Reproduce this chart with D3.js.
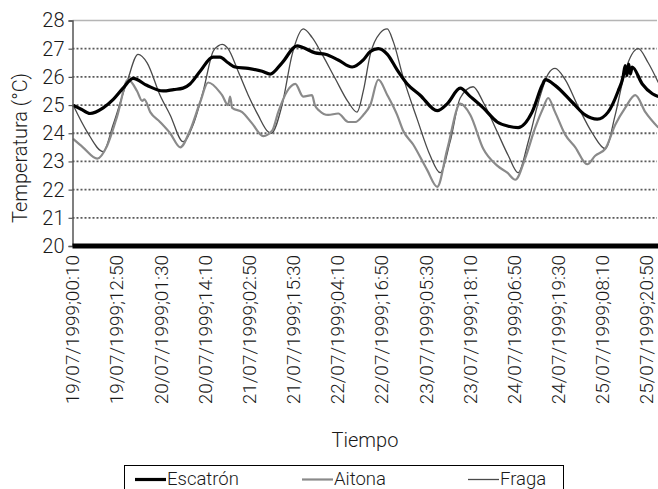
<!DOCTYPE html>
<html>
<head>
<meta charset="utf-8">
<script src="https://cdn.jsdelivr.net/npm/d3@7"></script>
<style>
  html, body { margin: 0; padding: 0; background: #fff; }
  svg { display: block; }
  text { font-family: "Roboto", "Liberation Sans", sans-serif; font-weight: 300; fill: #1a1a1a; }
</style>
</head>
<body>
<svg id="chart" width="658" height="489"></svg>
<script>
// Tick labels along the time axis (every 12 h 40 min)
const timeTicks = [
  "19/07/1999;00:10", "19/07/1999;12:50", "20/07/1999;01:30", "20/07/1999;14:10",
  "21/07/1999;02:50", "21/07/1999;15:30", "22/07/1999;04:10", "22/07/1999;16:50",
  "23/07/1999;05:30", "23/07/1999;18:10", "24/07/1999;06:50", "24/07/1999;19:30",
  "25/07/1999;08:10", "25/07/1999;20:50"
];
const tempTicks = [20, 21, 22, 23, 24, 25, 26, 27, 28];

// Readings: hours elapsed since 19/07/1999 00:00, temperature in °C
const escatronHours = [0.17, 2.5, 5.0, 8.8, 11.7, 14.5, 17.4, 21.3, 26.0, 29.0, 31.7, 33.7, 36.6, 40.3, 42.3,
  44.6, 46.6, 50.4, 54.4, 56.7, 60.1, 64.4, 65.9, 69.6, 72.5, 76.2, 80.2, 83.4, 85.4, 87.7, 90.3, 93.1, 96.0,
  99.7, 104.6, 107.5, 111.2, 114.1, 117.8, 121.8, 125.0, 127.8, 131.8, 134.7, 135.6, 138.4, 143.3, 147.0,
  150.5, 153.6, 156.5, 157.9, 158.5, 159.0, 159.5, 160.0, 160.5, 163.4, 166.3, 168.0];
const escatronTemp = [25.0, 24.85, 24.7, 24.9, 25.2, 25.6, 25.95, 25.7, 25.5, 25.55, 25.6, 25.75, 26.2, 26.7, 26.7,
  26.5, 26.35, 26.3, 26.2, 26.1, 26.5, 27.1, 27.05, 26.85, 26.8, 26.6, 26.35, 26.6, 26.9, 27.0, 26.8, 26.25, 25.75,
  25.35, 24.8, 25.05, 25.6, 25.3, 24.9, 24.4, 24.25, 24.2, 24.75, 25.7, 25.9, 25.7, 25.1, 24.65,
  24.5, 24.75, 25.5, 26.0, 26.4, 26.05, 26.45, 26.1, 26.35, 25.75, 25.4, 25.3];

const aitonaHours = [0.17, 3.0, 7.1, 9.9, 12.8, 15.95, 18.5, 20.0, 20.6, 22.3, 25.1, 28.0, 30.9, 33.7, 36.6, 38.9,
  42.3, 42.9, 44.6, 45.2, 45.8, 48.65, 51.5, 54.7, 57.3, 59.0, 61.6, 63.9, 66.15, 68.7, 69.5, 70.8, 73.3, 76.2,
  79.1, 81.1, 83.4, 85.4, 87.7, 90.3, 93.1, 94.8, 97.7, 101.7, 104.6, 107.5, 111.2, 114.1, 117.8, 121.8,
  124.7, 127.0, 129.8, 132.7, 135.0, 136.4, 138.4, 141.3, 144.2, 147.6, 149.9, 152.8, 155.65, 158.5, 161.4,
  164.3, 168.0];
const aitonaTemp = [23.8, 23.5, 23.1, 23.55, 24.6, 25.9, 25.5, 25.15, 25.2, 24.75, 24.4, 24.0, 23.5, 24.1, 25.1, 25.8,
  25.45, 25.35, 25.0, 25.3, 24.9, 24.75, 24.35, 23.9, 24.1, 24.75, 25.5, 25.75, 25.3, 25.35, 25.0, 24.8, 24.65, 24.7,
  24.4, 24.4, 24.65, 25.0, 25.9, 25.35, 24.65, 24.1, 23.6, 22.7, 22.1, 23.45, 25.05, 24.65, 23.45, 22.85,
  22.6, 22.35, 23.1, 24.2, 24.9, 25.25, 24.75, 23.95, 23.5, 22.9, 23.2, 23.45, 24.3, 24.9, 25.35,
  24.75, 24.2];

const fragaHours = [0.17, 4.2, 8.8, 11.65, 15.7, 18.8, 21.4, 25.1, 28.0, 31.7, 34.6, 37.5, 40.3, 41.8, 42.9, 44.6,
  47.5, 50.4, 53.2, 56.1, 57.0, 60.1, 63.0, 66.2, 68.7, 71.6, 75.3, 79.1, 81.6, 83.4, 85.4, 88.2, 90.25, 92.0,
  94.8, 98.85, 102.6, 105.45, 108.3, 111.2, 114.9, 117.8, 121.8, 125.0, 127.8, 130.7, 133.6, 136.4, 138.4,
  141.3, 145.0, 149.1, 152.8, 155.65, 158.5, 162.25, 165.1, 168.0];
const fragaTemp = [25.0, 24.05, 23.35, 24.3, 25.85, 26.8, 26.5, 25.35, 24.65, 23.7, 24.3, 25.5, 26.9, 27.1, 27.15, 27.0,
  26.2, 25.35, 24.65, 24.05, 24.0, 25.0, 26.8, 27.7, 27.4, 26.8, 25.95, 25.1, 24.75, 25.5, 26.8, 27.55, 27.7, 27.25,
  26.0, 24.5, 23.2, 22.6, 23.7, 25.25, 25.65, 25.1, 24.05, 23.2, 22.6, 23.7, 25.1, 26.1, 26.3,
  25.9, 24.95, 24.0, 23.45, 24.65, 26.2, 27.0, 26.5, 25.8];

const seriesNames = ["Escatrón", "Aitona", "Fraga"];

// ---- drawing ----
const svg = d3.select("#chart");
const parseTick = d3.timeParse("%d/%m/%Y;%H:%M");
const start = new Date(1999, 6, 19, 0, 0);
const end = new Date(1999, 6, 26, 0, 0);
const plot = { left: 72.5, right: 658.3, top: 20.5, bottom: 246 };

const x = d3.scaleTime().domain([start, end]).range([plot.left, plot.right]);
const y = d3.scaleLinear().domain([20, 28]).range([plot.bottom, plot.top]);

const toPoints = (hours, temps) => hours.map((h, i) => ({ t: new Date(start.getTime() + h * 3600e3), v: temps[i] }));

// dotted horizontal grid
svg.append("g")
  .selectAll("line")
  .data(tempTicks.filter(d => d > 20 && d < 28))
  .join("line")
  .attr("x1", plot.left).attr("x2", 657)
  .attr("y1", d => y(d)).attr("y2", d => y(d))
  .attr("stroke", "#5a5a5a")
  .attr("stroke-width", 1.8)
  .attr("stroke-dasharray", "2,2");

// top frame line
svg.append("line")
  .attr("x1", plot.left).attr("x2", 657)
  .attr("y1", y(28)).attr("y2", y(28))
  .attr("stroke", "#b5b5b5").attr("stroke-width", 1.5);

// series lines
const line = d3.line().x(d => x(d.t)).y(d => y(d.v)).curve(d3.curveMonotoneX);
const styles = [
  { pts: toPoints(fragaHours, fragaTemp), color: "#4a4a4a", width: 1.3 },
  { pts: toPoints(aitonaHours, aitonaTemp), color: "#8a8a8a", width: 2.2 },
  { pts: toPoints(escatronHours, escatronTemp), color: "#000", width: 3.2 }
];
svg.append("g")
  .selectAll("path")
  .data(styles)
  .join("path")
  .attr("fill", "none")
  .attr("stroke", d => d.color)
  .attr("stroke-width", d => d.width)
  .attr("stroke-linejoin", "round")
  .attr("d", d => line(d.pts));

// y axis
const yAxis = d3.axisLeft(y).tickValues(tempTicks).tickSize(4).tickPadding(4).tickFormat(d3.format("d"));
const gy = svg.append("g").attr("transform", `translate(${plot.left},0)`).call(yAxis);
gy.select(".domain").attr("stroke", "#555").attr("stroke-width", 1.5);
gy.selectAll(".tick line").attr("stroke", "#555").attr("stroke-width", 1.2);
gy.selectAll(".tick text").style("font-size", "20px").attr("fill", "#1a1a1a");

// thick base line at 20 °C
svg.append("line")
  .attr("x1", plot.left).attr("x2", 658)
  .attr("y1", y(20)).attr("y2", y(20))
  .attr("stroke", "#000").attr("stroke-width", 5);

// x axis tick labels (rotated)
const xAxis = d3.axisBottom(x)
  .tickValues(timeTicks.map(parseTick))
  .tickSize(0).tickPadding(0)
  .tickFormat(d3.timeFormat("%d/%m/%Y;%H:%M"));
const gx = svg.append("g").attr("transform", `translate(0,${plot.bottom})`).call(xAxis);
gx.select(".domain").remove();
gx.selectAll(".tick text")
  .style("font-size", "19px")
  .attr("text-anchor", "end")
  .attr("transform", "rotate(-90)")
  .attr("x", -9)
  .attr("y", 0)
  .attr("dy", "0.3em");

// axis titles
svg.append("text")
  .attr("transform", "translate(27,148) rotate(-90)")
  .attr("text-anchor", "middle")
  .style("font-size", "20px")
  .text("Temperatura (°C)");
svg.append("text")
  .attr("x", 365).attr("y", 447)
  .attr("text-anchor", "middle")
  .style("font-size", "20px")
  .text("Tiempo");

// legend
const legend = svg.append("g");
legend.append("rect")
  .attr("x", 124.5).attr("y", 465.5).attr("width", 439).attr("height", 40)
  .attr("fill", "none").attr("stroke", "#000").attr("stroke-width", 1);
const legendItems = [
  { name: seriesNames[0], x: 135, color: "#000", width: 3.2 },
  { name: seriesNames[1], x: 302, color: "#8a8a8a", width: 2.2 },
  { name: seriesNames[2], x: 468, color: "#4a4a4a", width: 1.3 }
];
const li = legend.selectAll("g.item").data(legendItems).join("g").attr("class", "item");
li.append("line")
  .attr("x1", d => d.x).attr("x2", d => d.x + 31)
  .attr("y1", 479.5).attr("y2", 479.5)
  .attr("stroke", d => d.color).attr("stroke-width", d => d.width);
li.append("text")
  .attr("x", d => d.x + 32).attr("y", 484.5)
  .style("font-size", "18.5px")
  .text(d => d.name);
</script>
</body>
</html>
